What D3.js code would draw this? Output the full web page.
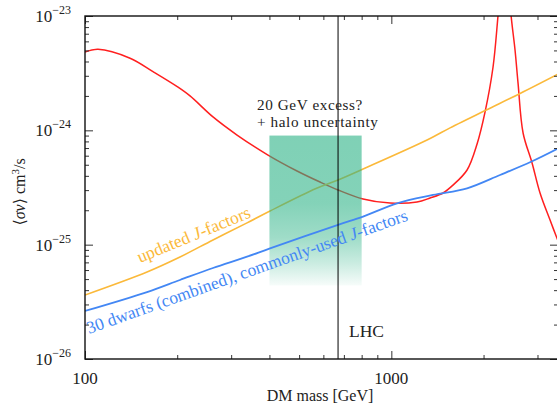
<!DOCTYPE html>
<html>
<head>
<meta charset="utf-8">
<script src="https://cdn.jsdelivr.net/npm/d3@7"></script>
<style>
  html, body { margin: 0; padding: 0; background: #fff; }
  svg { display: block; }
  text { font-family: "Liberation Serif", "DejaVu Serif", serif; fill: #222; }
</style>
</head>
<body>
<svg id="chart" width="557" height="404"></svg>
<script>
// Annihilation cross-section limits vs dark-matter mass
const redMass  = [100, 110.3, 140.3, 166.7, 200, 220.2, 261.7, 313.6, 395.8, 492.2, 585.1, 669.9, 808.5, 990, 1213, 1338, 1475, 1590, 1767, 1905, 2023, 2148, 2231, 2300];
const redSigma = [4.84e-24, 5.11e-24, 4.27e-24, 3.26e-24, 2.41e-24, 2.00e-24, 1.31e-24, 9.10e-25, 6.08e-25, 4.41e-25, 3.53e-25, 3.01e-25, 2.51e-25, 2.31e-25, 2.36e-25, 2.56e-25, 2.83e-25, 3.32e-25, 4.50e-25, 7.60e-25, 1.45e-24, 3.58e-24, 1.02e-23, 2.5e-23];
const redHighMass  = [2400, 2459, 2534, 2592, 2692, 2880, 3058, 3297, 3500];
const redHighSigma = [2.5e-23, 1.02e-23, 5.04e-24, 2.59e-24, 9.48e-25, 5.18e-25, 2.83e-25, 1.64e-25, 1.08e-25];

const updatedMass  = [100, 159.4, 204.2, 261.7, 338, 401.8, 567.7, 669.9, 808.5, 1308, 1555, 1807, 2023, 2632, 3500];
const updatedSigma = [3.63e-26, 5.77e-26, 7.80e-26, 1.10e-25, 1.55e-25, 1.97e-25, 3.10e-25, 3.68e-25, 4.59e-25, 8.23e-25, 1.05e-24, 1.28e-24, 1.49e-24, 2.10e-24, 3.10e-24];

const dwarfMass  = [100, 159.4, 204.2, 261.7, 338, 401.8, 669.9, 808.5, 1044, 1368, 1767, 2264, 2858, 3500];
const dwarfSigma = [2.63e-26, 3.85e-26, 4.91e-26, 6.25e-26, 7.85e-26, 9.29e-26, 1.49e-25, 1.76e-25, 2.30e-25, 2.72e-25, 3.11e-25, 4.07e-25, 5.31e-25, 6.94e-25];

const excessMass  = [400, 800];
const excessSigma = [4.4e-26, 9e-25];
const lhcMass = 670;

const xMajor = [100, 1000];
const xMinor = [200, 300, 400, 500, 600, 700, 800, 900, 2000, 3000];
const yMajor = [1e-26, 1e-25, 1e-24, 1e-23];
const yExp   = ["−26", "−25", "−24", "−23"];
const yMinor = [];
[-26, -25, -24].forEach(e => { for (let k = 2; k <= 9; k++) yMinor.push(k * Math.pow(10, e)); });

const svg = d3.select("#chart");
const L = 85, R = 558, T = 16, B = 359;
const x = d3.scaleLog().domain([100, 3500]).range([L, R]);
const y = d3.scaleLog().domain([1e-26, 1e-23]).range([B, T]);

const defs = svg.append("defs");
defs.append("clipPath").attr("id", "plot")
  .append("rect").attr("x", L).attr("y", T).attr("width", R - L).attr("height", B - T);

// translucent band that fades out towards the bottom
const grad = defs.append("linearGradient").attr("id", "fade")
  .attr("x1", 0).attr("y1", 0).attr("x2", 0).attr("y2", 1);
[[0, 0.6], [0.45, 0.58], [0.68, 0.45], [0.85, 0.25], [1, 0.04]].forEach(([o, a]) =>
  grad.append("stop").attr("offset", o).attr("stop-color", "#2ab285").attr("stop-opacity", a));

const plot = svg.append("g").attr("clip-path", "url(#plot)");

const line = d3.line().x(d => x(d[0])).y(d => y(d[1])).curve(d3.curveCatmullRom.alpha(0.5));
const zip = (a, b) => a.map((v, i) => [v, b[i]]);

plot.append("path").datum(zip(redMass, redSigma)).attr("d", line)
  .attr("fill", "none").attr("stroke", "#ff1f1f").attr("stroke-width", 1.5);
plot.append("path").datum(zip(redHighMass, redHighSigma)).attr("d", line)
  .attr("fill", "none").attr("stroke", "#ff1f1f").attr("stroke-width", 1.5);
plot.append("path").datum(zip(updatedMass, updatedSigma)).attr("d", line)
  .attr("fill", "none").attr("stroke", "#fbb93a").attr("stroke-width", 1.6);

// excess region, laid over the red and yellow limits
plot.append("rect")
  .attr("x", x(excessMass[0])).attr("width", x(excessMass[1]) - x(excessMass[0]))
  .attr("y", y(excessSigma[1])).attr("height", y(excessSigma[0]) - y(excessSigma[1]))
  .attr("fill", "url(#fade)");

plot.append("path").datum(zip(dwarfMass, dwarfSigma)).attr("d", line)
  .attr("fill", "none").attr("stroke", "#4387f4").attr("stroke-width", 1.8);

// LHC bound
plot.append("line").attr("x1", x(lhcMass)).attr("x2", x(lhcMass))
  .attr("y1", T).attr("y2", B).attr("stroke", "#000").attr("stroke-width", 1);

// curve labels
svg.append("text").attr("transform", "translate(140,263) rotate(-22.4)")
  .attr("font-size", 17.5).style("fill", "#fbb93a")
  .call(t => { t.append("tspan").text("updated "); t.append("tspan").attr("font-style", "italic").text("J"); t.append("tspan").text("-factors"); });
svg.append("text").attr("transform", "translate(89,334) rotate(-19.6)")
  .attr("font-size", 17.4).style("fill", "#4387f4")
  .call(t => { t.append("tspan").text("30 dwarfs (combined), commonly-used "); t.append("tspan").attr("font-style", "italic").text("J"); t.append("tspan").text("-factors"); });

svg.append("text").attr("x", 257).attr("y", 110).attr("font-size", 15.2).attr("letter-spacing", 0.6).text("20 GeV excess?");
svg.append("text").attr("x", 257).attr("y", 127).attr("font-size", 15.2).attr("letter-spacing", 0.6).text("+ halo uncertainty");
svg.append("text").attr("x", 349).attr("y", 337).attr("font-size", 17.5).text("LHC");

// axes with inward ticks
const tickStyle = g => { g.select(".domain").remove(); g.selectAll("line").attr("stroke", "#333").attr("stroke-width", 1); };
svg.append("g").attr("transform", `translate(0,${B})`).call(d3.axisBottom(x).tickValues(xMinor).tickSize(-4).tickFormat("")).call(tickStyle);
svg.append("g").attr("transform", `translate(0,${B})`).call(d3.axisBottom(x).tickValues(xMajor).tickSize(-8).tickFormat("")).call(tickStyle);
svg.append("g").attr("transform", `translate(0,${T})`).call(d3.axisTop(x).tickValues(xMinor).tickSize(-4).tickFormat("")).call(tickStyle);
svg.append("g").attr("transform", `translate(0,${T})`).call(d3.axisTop(x).tickValues(xMajor).tickSize(-8).tickFormat("")).call(tickStyle);
svg.append("g").attr("transform", `translate(${L},0)`).call(d3.axisLeft(y).tickValues(yMinor).tickSize(-4).tickFormat("")).call(tickStyle);
svg.append("g").attr("transform", `translate(${L},0)`).call(d3.axisLeft(y).tickValues(yMajor).tickSize(-8).tickFormat("")).call(tickStyle);
svg.append("g").attr("transform", `translate(${R},0)`).call(d3.axisRight(y).tickValues(yMinor).tickSize(-4).tickFormat("")).call(tickStyle);
svg.append("g").attr("transform", `translate(${R},0)`).call(d3.axisRight(y).tickValues(yMajor).tickSize(-8).tickFormat("")).call(tickStyle);

svg.append("rect").attr("x", L).attr("y", T).attr("width", R - L).attr("height", B - T)
  .attr("fill", "none").attr("stroke", "#111").attr("stroke-width", 1.4);

// tick labels
xMajor.forEach(v => svg.append("text").attr("x", x(v)).attr("y", 384).attr("text-anchor", "middle").attr("font-size", 17).text(v));
yMajor.forEach((v, i) => {
  const t = svg.append("text").attr("x", 71).attr("y", y(v) + 6).attr("text-anchor", "end").attr("font-size", 17);
  t.append("tspan").text("10");
  t.append("tspan").attr("font-size", 12).attr("dy", -8).text(yExp[i]);
});

// axis titles
svg.append("text").attr("x", 320).attr("y", 401).attr("text-anchor", "middle").attr("font-size", 16).text("DM mass [GeV]");
svg.append("text").attr("transform", "translate(25,192) rotate(-90)").attr("text-anchor", "middle").attr("font-size", 16)
  .call(t => {
    t.append("tspan").text("⟨");
    t.append("tspan").attr("font-style", "italic").text("σv");
    t.append("tspan").text("⟩ cm");
    t.append("tspan").attr("font-size", 11).attr("dy", -6).text("3");
    t.append("tspan").attr("dy", 6).text("/s");
  });
</script>
</body>
</html>
